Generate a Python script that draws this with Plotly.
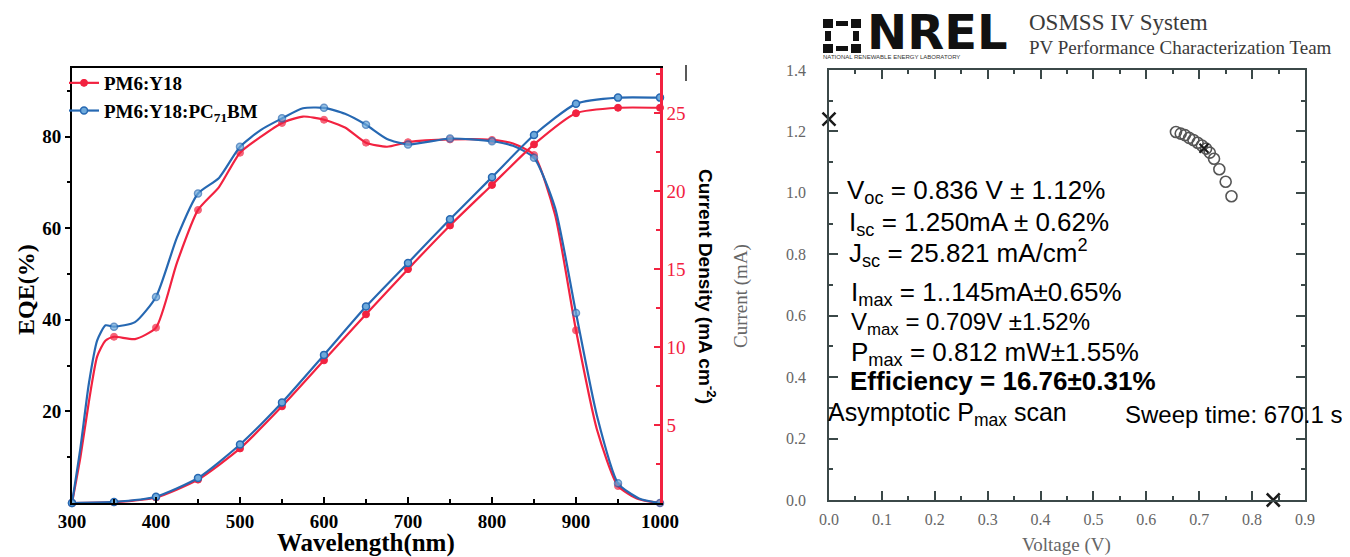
import plotly.graph_objects as go

W, H = 1350, 557
OX, OY = 8, 8  # page body offset of the plot div

# ---------------- Left chart data (EQE + integrated current) ----------------
wl_eqe = [300, 310, 320, 330, 340, 350, 375, 400, 425, 450, 475, 500, 525, 550, 575,
          600, 625, 650, 675, 700, 750, 800, 825, 850, 875, 900, 925, 950, 975, 1000]
eqe_y18 = [0, 10, 22, 32, 35.5, 36.3, 35.8, 38.3, 52.5, 64, 69, 76.5, 80, 83, 84.4,
           83.7, 82, 78.7, 77.8, 78.8, 79.4, 79.3, 78.5, 76, 63, 37.7, 16, 3.7, 0.8, 0]
eqe_pc71 = [0, 12, 26, 35.5, 38.8, 38.5, 39.5, 45, 58, 67.6, 71, 77.8, 81.5, 84, 86.2,
            86.3, 85, 82.6, 79.5, 78.3, 79.6, 79, 78, 75.4, 64.5, 41.5, 19, 4.3, 1, 0]

wl_j = [300, 350, 400, 450, 500, 550, 600, 650, 700, 750, 800, 850, 900, 950, 1000]
j_y18 = [0, 0.05, 0.35, 1.5, 3.5, 6.2, 9.15, 12.1, 15.0, 17.8, 20.4, 23.0, 25.0, 25.35, 25.35]
j_pc71 = [0, 0.07, 0.4, 1.6, 3.75, 6.45, 9.5, 12.6, 15.4, 18.2, 20.9, 23.6, 25.6, 26.0, 26.0]

series_names = ["PM6:Y18", "PM6:Y18:PC<sub>71</sub>BM"]
wl_ticks = [300, 400, 500, 600, 700, 800, 900, 1000]
eqe_ticks = [20, 40, 60, 80]
j_ticks = [5, 10, 15, 20, 25]

# ---------------- Right chart data (NREL I-V) ----------------
iv_v = [0.656, 0.665, 0.673, 0.681, 0.689, 0.697, 0.705, 0.713, 0.720, 0.728, 0.738, 0.750, 0.761]
iv_i = [1.198, 1.193, 1.188, 1.179, 1.172, 1.163, 1.154, 1.144, 1.131, 1.111, 1.077, 1.036, 0.989]
cross_v = [0.0, 0.84]
cross_i = [1.24, 0.0]
pmax_v = [0.709]
pmax_i = [1.145]
v_ticks = [0.0, 0.1, 0.2, 0.3, 0.4, 0.5, 0.6, 0.7, 0.8, 0.9]
i_ticks = [0.0, 0.2, 0.4, 0.6, 0.8, 1.0, 1.2, 1.4]

RED = "rgb(242,34,64)"
BLUE = "rgb(38,104,178)"
BLUE_FILL = "rgb(110,170,220)"
SERIF = "Liberation Serif"
SANS = "Liberation Sans"
FRAME = "#3b4848"
GRAY = "#666666"

def px(x):
    return (x - OX) / W

def py(y):
    return 1 - (y - OY) / H

fig = go.Figure()

mk_eqe = [7 if w % 50 == 0 else 0 for w in wl_eqe]

# EQE curves (left axis)
fig.add_trace(go.Scatter(x=wl_eqe, y=eqe_y18, mode="lines+markers", line=dict(color=RED, width=2.2, shape="spline", smoothing=0.6),
                         marker=dict(size=mk_eqe, color=RED, line=dict(color=RED, width=1)),
                         showlegend=False, xaxis="x", yaxis="y", cliponaxis=False))
fig.add_trace(go.Scatter(x=wl_eqe, y=eqe_pc71, mode="lines+markers", line=dict(color=BLUE, width=2.2, shape="spline", smoothing=0.6),
                         marker=dict(size=mk_eqe, color=BLUE_FILL, line=dict(color=BLUE, width=1.5)),
                         showlegend=False, xaxis="x", yaxis="y", cliponaxis=False))
# Current density curves (right axis)
fig.add_trace(go.Scatter(x=wl_j, y=j_y18, mode="lines+markers", name=series_names[0],
                         line=dict(color=RED, width=2.2, shape="spline", smoothing=0.6),
                         marker=dict(size=7, color=RED, line=dict(color=RED, width=1)),
                         xaxis="x", yaxis="y2", cliponaxis=False, legendrank=1))
fig.add_trace(go.Scatter(x=wl_j, y=j_pc71, mode="lines+markers", name=series_names[1],
                         line=dict(color=BLUE, width=2.2, shape="spline", smoothing=0.6),
                         marker=dict(size=7, color=BLUE_FILL, line=dict(color=BLUE, width=1.5)),
                         xaxis="x", yaxis="y2", cliponaxis=False, legendrank=2))

# I-V data (right chart)
fig.add_trace(go.Scatter(x=iv_v, y=iv_i, mode="markers", showlegend=False,
                         marker=dict(symbol="circle-open", size=11, color="#555555", line=dict(width=1.6)),
                         xaxis="x3", yaxis="y3", cliponaxis=False))
fig.add_trace(go.Scatter(x=cross_v, y=cross_i, mode="markers", showlegend=False,
                         marker=dict(symbol="x-thin", size=13, color="#1a1a1a", line=dict(width=2.5, color="#1a1a1a")),
                         xaxis="x3", yaxis="y3", cliponaxis=False))
fig.add_trace(go.Scatter(x=pmax_v, y=pmax_i, mode="markers", showlegend=False,
                         marker=dict(symbol="x-thin", size=9, color="#1a1a1a", line=dict(width=2, color="#1a1a1a")),
                         xaxis="x3", yaxis="y3", cliponaxis=False))

bold_serif = dict(family=SERIF, size=19, color="black", weight="bold")

fig.update_layout(
    width=W, height=H,
    margin=dict(l=0, r=0, t=0, b=0, pad=0, autoexpand=False),
    paper_bgcolor="white", plot_bgcolor="white",
    showlegend=True,
    legend=dict(x=px(64), y=py(64), xanchor="left", yanchor="top", bgcolor="rgba(0,0,0,0)",
                font=dict(family=SERIF, size=19, color="black", weight="bold"),
                itemwidth=30, tracegroupgap=0),
    xaxis=dict(domain=[px(72), px(660)], range=[300, 1000], tickvals=wl_ticks,
               ticks="inside", ticklen=6, tickwidth=2, tickcolor="black",
               minor=dict(dtick=50, ticks="inside", ticklen=4, tickwidth=2, tickcolor="black"),
               showline=True, linecolor="black", linewidth=2, mirror=True, showgrid=False, zeroline=False,
               tickfont=bold_serif, anchor="y", automargin=False),
    yaxis=dict(domain=[py(503), py(68)], range=[0, 95], tickvals=eqe_ticks,
               ticks="outside", ticklen=5, tickwidth=2, tickcolor="black",
               minor=dict(tickvals=[10, 30, 50, 70, 90], ticks="outside", ticklen=3, tickwidth=2, tickcolor="black"),
               showline=True, linecolor="black", linewidth=2, showgrid=False, zeroline=False,
               tickfont=bold_serif, anchor="x", automargin=False),
    yaxis2=dict(overlaying="y", side="right", anchor="x", range=[0, 27.9], tickvals=j_ticks,
                ticks="inside", ticklen=6, tickwidth=2, tickcolor=RED,
                minor=dict(dtick=2.5, ticks="inside", ticklen=4, tickwidth=2, tickcolor=RED),
                showline=True, linecolor=RED, linewidth=2.5, showgrid=False, zeroline=False,
                tickfont=dict(family=SERIF, size=19, color=RED), automargin=False),
    xaxis3=dict(domain=[px(829), px(1305)], range=[0, 0.9], tickvals=v_ticks, tickformat=".1f",
                ticks="inside", ticklen=9, tickwidth=1.5, tickcolor=FRAME,
                minor=dict(dtick=0.05, ticks="inside", ticklen=4, tickwidth=1.5, tickcolor=FRAME),
                showline=True, linecolor=FRAME, linewidth=1.5, mirror="ticks", showgrid=False, zeroline=False,
                tickfont=dict(family=SERIF, size=16, color=GRAY), ticklabelstandoff=4, anchor="y3", automargin=False),
    yaxis3=dict(domain=[py(500), py(70)], range=[0, 1.4], tickvals=i_ticks, tickformat=".1f",
                ticks="inside", ticklen=9, tickwidth=1.5, tickcolor=FRAME,
                minor=dict(dtick=0.1, ticks="inside", ticklen=4, tickwidth=1.5, tickcolor=FRAME),
                showline=True, linecolor=FRAME, linewidth=1.5, mirror="ticks", showgrid=False, zeroline=False,
                tickfont=dict(family=SERIF, size=16, color=GRAY), ticklabelstandoff=18, anchor="x3", automargin=False),
)

ann = []
def A(text, x, y, size, family, color="black", xanchor="center", yanchor="middle", angle=0, weight="normal"):
    ann.append(dict(text=text, x=px(x), y=py(y), xref="paper", yref="paper", showarrow=False,
                    xanchor=xanchor, yanchor=yanchor, textangle=angle, borderpad=0,
                    font=dict(size=size, family=family, color=color, weight=weight)))

# left chart titles
A("EQE(%)", 26, 290, 24, SERIF, angle=-90, weight="bold")
A("Wavelength(nm)", 366, 543, 25, SERIF, weight="bold")
A("Current Density (mA cm<sup>-2</sup>)", 707, 286, 19, SANS, angle=90, weight="bold")

# right chart titles
A("Voltage (V)", 1066, 545, 19, SERIF, color=GRAY)
A("Current (mA)", 741, 296, 19, SERIF, color=GRAY, angle=-90)

# header
A("NREL", 866, 32, 48, "DejaVu Sans", color="#111111", xanchor="left", weight="bold")
A("NATIONAL RENEWABLE ENERGY LABORATORY", 822, 57, 6, SANS, color="#333333", xanchor="left")
A("OSMSS IV System", 1028, 22, 23, SERIF, color="#3a3a3a", xanchor="left")
A("PV Performance Characterization Team", 1028, 47, 19, SERIF, color="#3a3a3a", xanchor="left")

# result text block
A("V<sub>oc</sub> = 0.836 V ± 1.12%", 846, 191, 26, SANS, xanchor="left")
A("I<sub>sc</sub> = 1.250mA ± 0.62%", 848, 223, 26, SANS, xanchor="left")
A("J<sub>sc</sub> = 25.821 mA/cm<sup>2</sup>", 848, 253, 26, SANS, xanchor="left")
A("I<sub>max</sub> = 1..145mA±0.65%", 850, 293, 26, SANS, xanchor="left")
A("V<sub>max</sub> = 0.709V ±1.52%", 850, 323, 24, SANS, xanchor="left")
A("P<sub>max</sub> = 0.812 mW±1.55%", 850, 353, 26, SANS, xanchor="left")
A("Efficiency = 16.76±0.31%", 849, 381, 26, SANS, xanchor="left", weight="bold")
A("Asymptotic P<sub>max</sub> scan", 827, 414, 25, SANS, xanchor="left")
A("Sweep time: 670.1 s", 1124, 414, 24, SANS, xanchor="left")

fig.update_layout(annotations=ann)

# NREL logo mark and small stray stroke (decorative)
shapes = []
def R(x0, y0, x1, y1):
    shapes.append(dict(type="rect", xref="paper", yref="paper", x0=px(x0), x1=px(x1), y0=py(y1), y1=py(y0),
                       fillcolor="#111111", line=dict(width=0)))
for (cx, cy) in [(823, 19), (851, 19), (823, 44), (851, 44)]:
    R(cx, cy, cx + 10, cy + 9)
R(836, 21, 848, 26)
R(836, 46, 848, 51)
R(825, 31, 831, 41)
R(853, 31, 859, 41)
shapes.append(dict(type="line", xref="paper", yref="paper", x0=px(686), x1=px(686), y0=py(65), y1=py(81),
                   line=dict(color="#222222", width=1.5)))
fig.update_layout(shapes=shapes)

fig.write_html("out.html")
